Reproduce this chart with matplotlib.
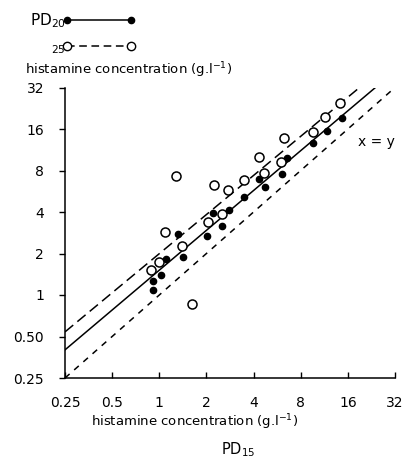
import numpy as np
import matplotlib
matplotlib.use("Agg")
import matplotlib.pyplot as plt
from matplotlib.lines import Line2D
from matplotlib.legend_handler import HandlerLine2D

# PD15 (x) vs PD20 / PD25 (y), histamine concentration g/l
pd20_x = [0.91, 0.915, 1.02, 1.11, 1.42, 1.32, 2.02, 2.52, 2.19, 2.78,
          3.5, 4.33, 4.75, 6.1, 6.5, 9.6, 11.7, 14.6]
pd20_y = [1.09, 1.27, 1.40, 1.81, 1.89, 2.77, 2.70, 3.18, 3.96, 4.14,
          5.17, 6.9, 6.1, 7.6, 9.9, 12.7, 15.5, 19.3]

pd25_x = [0.88, 1.0, 1.08, 1.28, 1.40, 1.62, 2.04, 2.22, 2.52, 2.75,
          3.48, 4.35, 4.67, 6.0, 6.3, 9.6, 11.4, 14.3]
pd25_y = [1.52, 1.74, 2.88, 7.3, 2.28, 0.86, 3.36, 6.3, 3.85, 5.78,
          6.83, 10.0, 7.67, 9.15, 13.8, 15.3, 19.7, 24.6]

# fitted lines (end points)
fit20_x = [0.25, 24.0]
fit20_y = [0.40, 32.0]
fit25_x = [0.25, 19.0]
fit25_y = [0.54, 32.0]
ident = [0.25, 32.0]

ticks = [0.25, 0.5, 1, 2, 4, 8, 16, 32]
xticklabels = ["0.25", "0.5", "1", "2", "4", "8", "16", "32"]
yticklabels = ["0.25", "0.50", "1", "2", "4", "8", "16", "32"]

fig = plt.figure(figsize=(4.06, 4.65), dpi=100)
ax = fig.add_axes([65/406, 1 - 378/465, 330/406, 290.5/465])

ax.plot(ident, ident, color="k", lw=1.1, ls=(0, (4, 4)))
ax.plot(fit20_x, fit20_y, color="k", lw=1.1, ls="-")
ax.plot(fit25_x, fit25_y, color="k", lw=1.1, ls=(0, (7, 3.5)))

ax.plot(pd20_x, pd20_y, ls="none", marker="o", ms=4.5, color="k")
ax.plot(pd25_x, pd25_y, ls="none", marker="o", ms=6.5, mfc="white",
        mec="k", mew=1.1)

ax.set_xscale("log", base=2)
ax.set_yscale("log", base=2)
ax.set_xlim(0.25, 32)
ax.set_ylim(0.25, 32)
ax.set_xticks(ticks)
ax.set_xticklabels(xticklabels)
ax.set_yticks(ticks)
ax.set_yticklabels(yticklabels)
ax.minorticks_off()
ax.tick_params(axis="x", direction="in", length=4, width=1, pad=13, labelsize=10)
ax.tick_params(axis="y", direction="out", length=4, width=1, pad=11, labelsize=10)
for s in ["top", "right"]:
    ax.spines[s].set_visible(False)
for s in ["left", "bottom"]:
    ax.spines[s].set_linewidth(1.1)

ax.text(18.5, 12.9, "x = y", fontsize=10, va="center", ha="left")

fig.text(195/406, 1 - 422/465, "histamine concentration (g.l$^{-1}$)",
         fontsize=9.5, ha="center", va="center")
fig.text(238/406, 1 - 450/465, "PD$_{15}$", fontsize=10.5, ha="center", va="center")
fig.text(25/406, 1 - 70/465, "histamine concentration (g.l$^{-1}$)",
         fontsize=9.5, ha="left", va="center")

handles = [
    Line2D([], [], color="k", lw=1.1, marker="o", ms=4.5),
    Line2D([], [], color="k", lw=1.1, ls=(0, (5, 3)), marker="o", ms=6,
           mfc="white", mec="k"),
]
ax.legend(handles, ["PD$_{20}$", "$_{25}$"], loc="upper left",
          bbox_to_anchor=(22/406, 1 - 4/465), bbox_transform=fig.transFigure,
          frameon=False, markerfirst=False, numpoints=2, handlelength=4.15,
          handletextpad=0.1, labelspacing=0.6, borderpad=0, fontsize=11,
          handler_map={Line2D: HandlerLine2D(marker_pad=0)})

fig.savefig("out.png", dpi=100)
